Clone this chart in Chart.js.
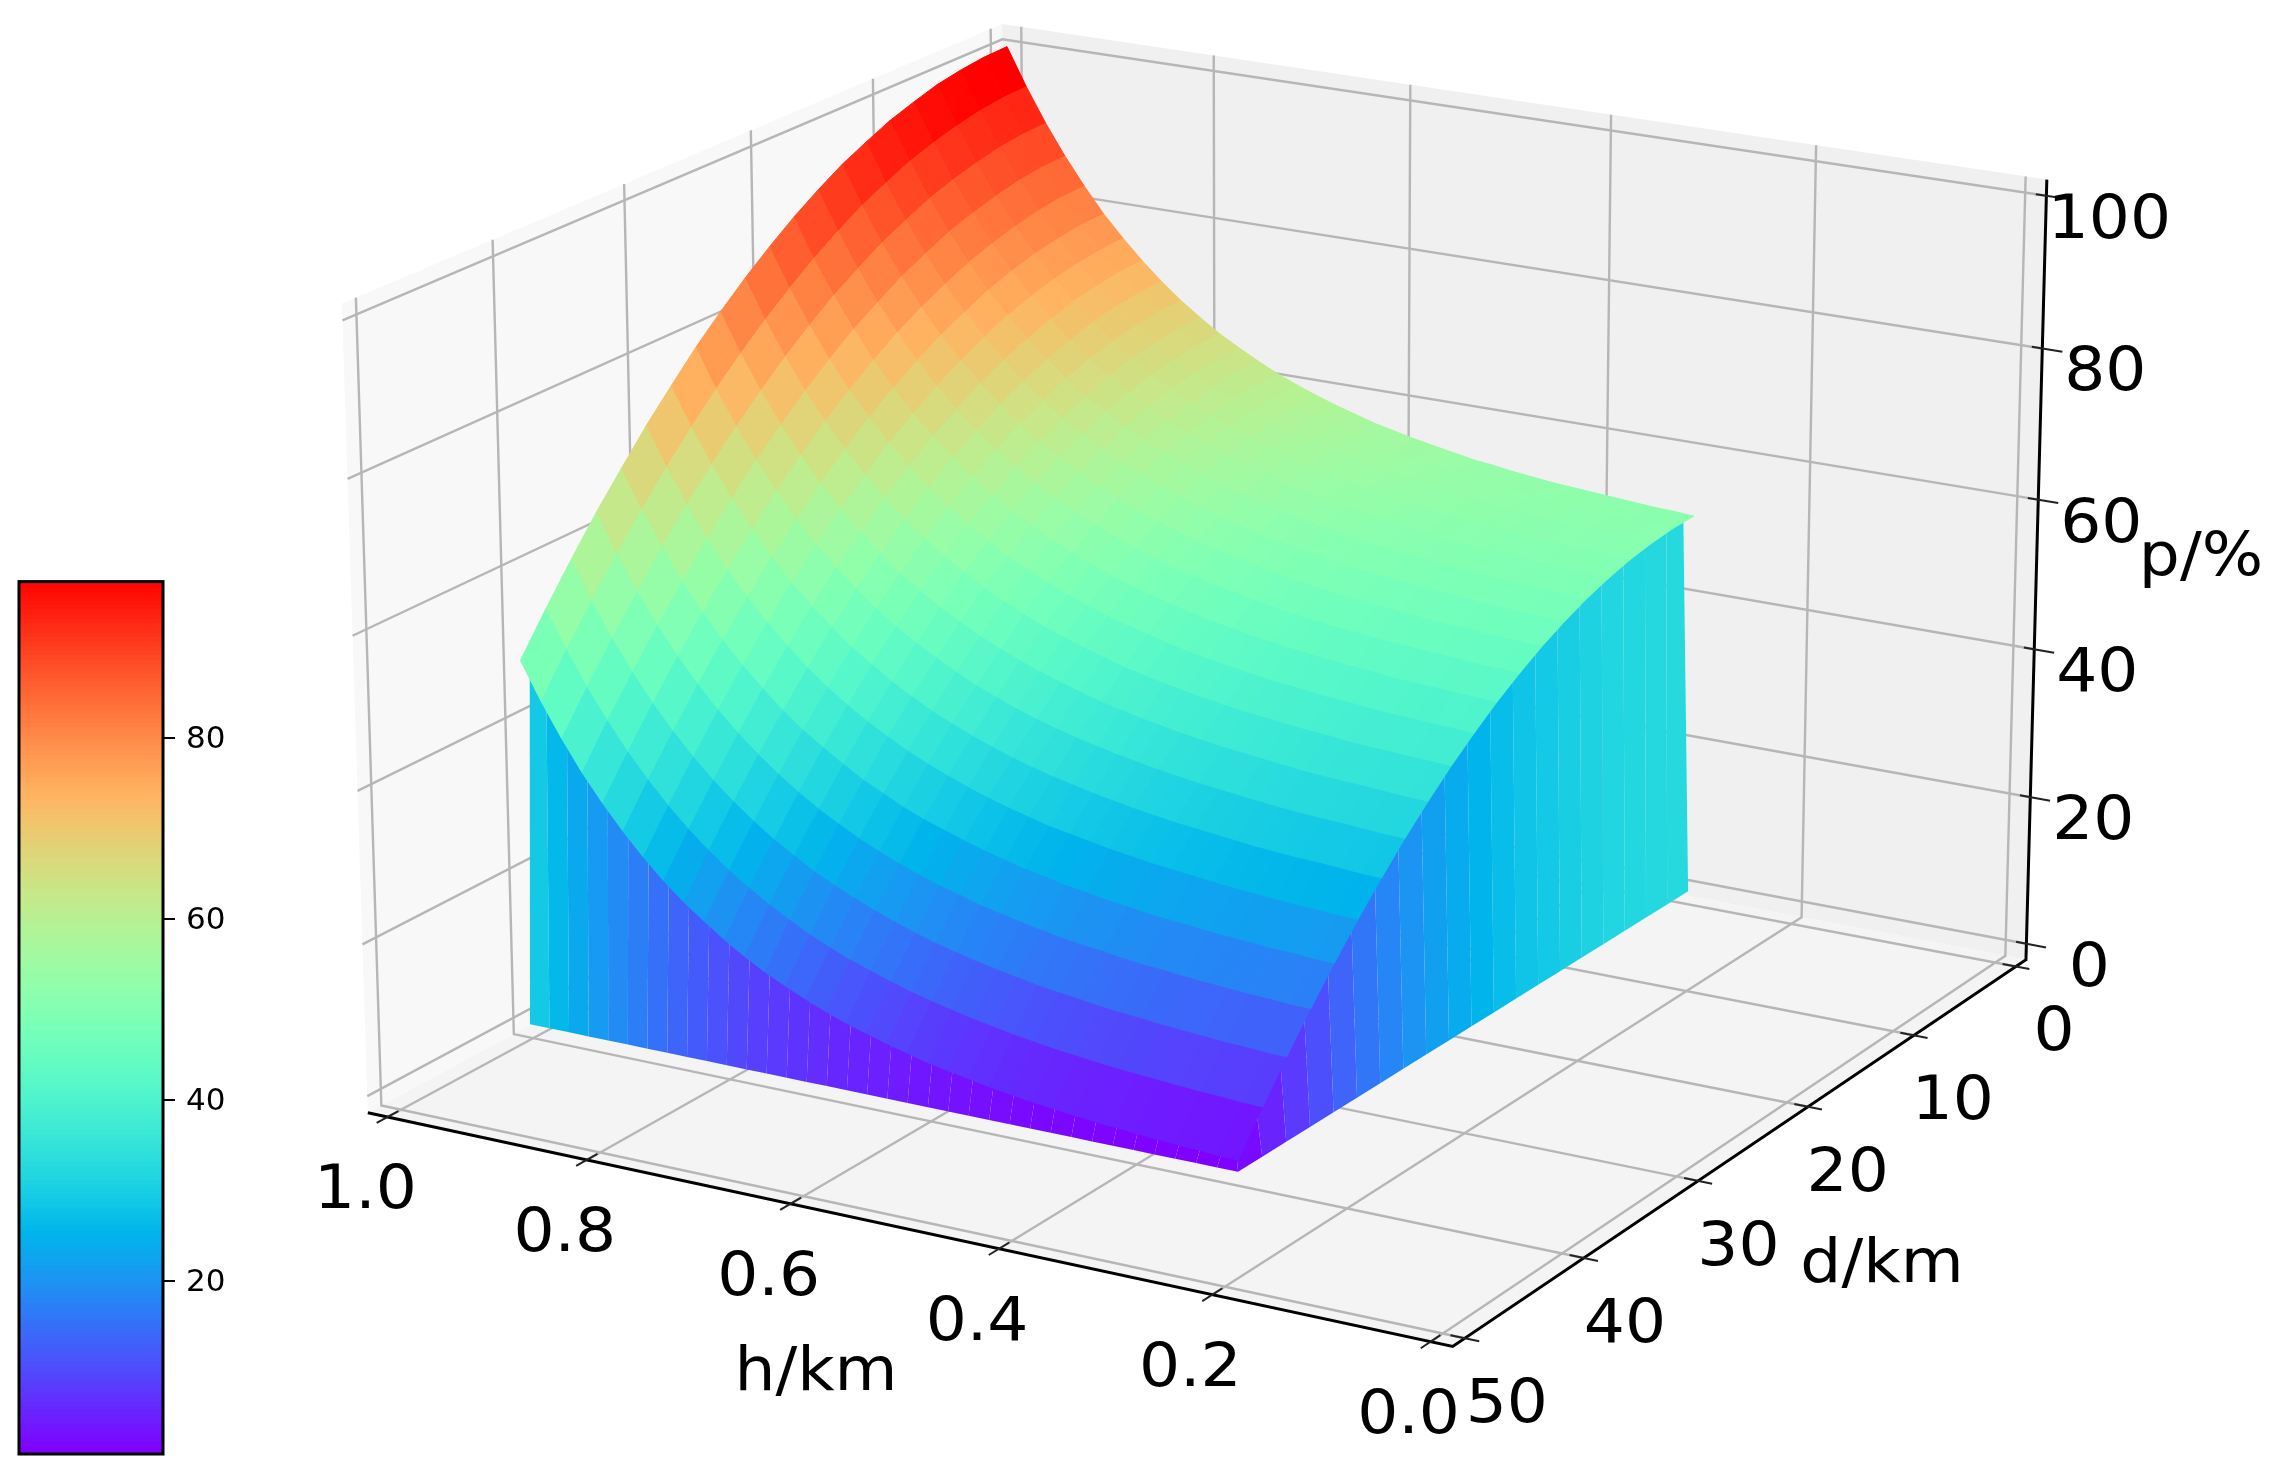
<!DOCTYPE html>
<html><head><meta charset="utf-8">
<script src="https://cdn.jsdelivr.net/npm/chart.js@4"></script>
<style>html,body{margin:0;padding:0;background:#fff}#m{position:absolute;left:0;top:0}#c{position:absolute;left:0;top:560px}</style>
</head><body>
<canvas id="m" width="2273" height="1476"></canvas>
<canvas id="c" width="260" height="916"></canvas>
<script>
const hValues=[1.003,.983,.963,.943,.923,.903,.883,.863,.843,.823,.803,.783,.763,.743,.723,.703,.683,.663,.643,.623,.603,.583,.563,.543,.523,.503,.483,.463,.443,.423,.403,.383,.363,.343,.323,.303];
const dValues=[0,2,4,6,8,10,12,14,16,18,20,22,24,26,28,30,32,34,36,38,40];
const pValues=[
[100,99.9,99.5,98.9,97.9,96.8,95.3,93.7,91.7,89.5,87,84.3,81.3,78.1,74.5,70.8,66.7,62.5,57.9,53.1,48],
[94.9,94.8,94.4,93.7,92.8,91.7,90.2,88.6,86.6,84.4,81.9,79.2,76.2,73,69.5,65.8,61.7,57.5,52.9,48.2,43.1],
[90.3,90.2,89.8,89.1,88.2,87.1,85.6,84,82,79.9,77.4,74.7,71.7,68.5,65,61.3,57.3,53,48.5,43.7,38.7],
[86.2,86.1,85.7,85,84.1,83,81.5,79.9,77.9,75.8,73.3,70.6,67.6,64.5,61,57.2,53.2,49,44.5,39.8,34.7],
[82.5,82.4,82,81.3,80.4,79.3,77.8,76.2,74.3,72.1,69.6,67,64,60.8,57.3,53.6,49.6,45.4,40.9,36.2,31.2],
[79.1,79,78.6,78,77.1,76,74.5,72.9,71,68.8,66.4,63.7,60.7,57.5,54.1,50.4,46.4,42.2,37.7,33,28],
[76.2,76,75.6,75,74.1,73,71.6,69.9,68,65.8,63.4,60.7,57.8,54.6,51.1,47.5,43.5,39.3,34.8,30.1,25.1],
[73.5,73.4,73,72.4,71.4,70.3,68.9,67.3,65.3,63.2,60.8,58.1,55.1,52,48.5,44.9,40.9,36.7,32.2,27.5,22.5],
[71.1,71,70.6,70,69,67.9,66.5,64.9,62.9,60.8,58.4,55.7,52.8,49.6,46.2,42.5,38.5,34.4,29.9,25.2,20.2],
[68.9,68.8,68.4,67.8,66.9,65.8,64.3,62.7,60.8,58.7,56.2,53.6,50.6,47.5,44,40.4,36.4,32.3,27.8,23.1,18.2],
[67,66.9,66.5,65.9,65,63.8,62.4,60.8,58.9,56.7,54.3,51.7,48.7,45.6,42.2,38.5,34.6,30.4,25.9,21.3,16.3],
[65.2,65.1,64.7,64.1,63.2,62.1,60.7,59.1,57.1,55,52.6,50,47,43.9,40.4,36.8,32.9,28.7,24.3,19.6,14.6],
[63.7,63.6,63.2,62.6,61.7,60.5,59.1,57.5,55.6,53.5,51,48.4,45.5,42.4,38.9,35.3,31.3,27.2,22.7,18.1,13.1],
[62.3,62.2,61.8,61.2,60.3,59.2,57.7,56.1,54.2,52.1,49.7,47,44.1,41,37.5,33.9,30,25.8,21.4,16.7,11.8],
[61,60.9,60.5,59.9,59,57.9,56.5,54.9,53,50.8,48.4,45.8,42.9,39.7,36.3,32.7,28.7,24.6,20.2,15.5,10.6],
[59.9,59.8,59.4,58.8,57.9,56.8,55.4,53.7,51.8,49.7,47.3,44.7,41.8,38.6,35.2,31.6,27.6,23.5,19.1,14.4,9.5],
[58.9,58.8,58.4,57.8,56.9,55.8,54.4,52.7,50.8,48.7,46.3,43.7,40.8,37.6,34.2,30.6,26.7,22.5,18.1,13.5,8.5],
[58,57.9,57.5,56.9,56,54.9,53.4,51.8,49.9,47.8,45.4,42.8,39.9,36.7,33.3,29.7,25.8,21.6,17.2,12.6,7.7],
[57.2,57.1,56.7,56.1,55.2,54,52.6,51,49.1,47,44.6,42,39.1,35.9,32.5,28.9,25,20.9,16.4,11.8,6.9],
[56.4,56.3,55.9,55.3,54.4,53.3,51.9,50.3,48.4,46.3,43.9,41.2,38.3,35.2,31.8,28.2,24.3,20.1,15.7,11.1,6.2],
[55.8,55.7,55.3,54.7,53.8,52.7,51.3,49.6,47.7,45.6,43.2,40.6,37.7,34.6,31.2,27.5,23.6,19.5,15.1,10.5,5.5],
[55.2,55.1,54.7,54.1,53.2,52.1,50.7,49.1,47.2,45,42.6,40,37.1,34,30.6,27,23.1,18.9,14.5,9.9,5],
[54.7,54.6,54.2,53.6,52.6,51.5,50.1,48.5,46.6,44.5,42.1,39.5,36.6,33.5,30.1,26.5,22.5,18.4,14,9.4,4.5],
[54.2,54.1,53.7,53.1,52.2,51.1,49.7,48,46.1,44,41.6,39,36.1,33,29.6,26,22.1,17.9,13.5,8.9,4],
[53.7,53.6,53.2,52.6,51.7,50.6,49.2,47.6,45.7,43.6,41.2,38.6,35.7,32.6,29.2,25.6,21.6,17.5,13.1,8.5,3.6],
[53.4,53.3,52.9,52.3,51.4,50.3,48.9,47.2,45.3,43.2,40.8,38.2,35.3,32.2,28.8,25.2,21.3,17.2,12.8,8.1,3.2],
[53,52.9,52.5,51.9,51,49.9,48.5,46.9,45,42.9,40.5,37.9,35,31.9,28.5,24.9,20.9,16.8,12.4,7.8,2.9],
[52.7,52.6,52.2,51.6,50.7,49.6,48.2,46.6,44.7,42.6,40.2,37.6,34.7,31.6,28.2,24.6,20.6,16.5,12.1,7.5,2.6],
[52.4,52.3,51.9,51.3,50.4,49.3,47.9,46.3,44.4,42.3,39.9,37.3,34.4,31.3,27.9,24.3,20.4,16.3,11.9,7.2,2.3],
[52.2,52.1,51.7,51.1,50.2,49.1,47.7,46.1,44.2,42.1,39.7,37.1,34.1,31,27.6,24,20.1,16,11.6,7,2.1],
[52,51.9,51.5,50.9,50,48.9,47.5,45.8,44,41.8,39.4,36.8,33.9,30.8,27.4,23.8,19.9,15.8,11.4,6.8,1.9],
[51.8,51.7,51.3,50.7,49.8,48.7,47.3,45.7,43.8,41.6,39.2,36.6,33.7,30.6,27.2,23.6,19.7,15.6,11.2,6.6,1.7],
[51.6,51.5,51.1,50.5,49.6,48.5,47.1,45.5,43.6,41.5,39.1,36.5,33.6,30.5,27.1,23.4,19.5,15.4,11,6.4,1.5],
[51.4,51.3,50.9,50.3,49.4,48.3,46.9,45.3,43.4,41.3,38.9,36.3,33.4,30.3,26.9,23.3,19.4,15.3,10.9,6.3,1.4],
[51.3,51.2,50.8,50.2,49.3,48.2,46.8,45.2,43.3,41.2,38.8,36.2,33.2,30.1,26.7,23.1,19.2,15.1,10.7,6.1,1.2],
[51.1,51,50.6,50,49.1,48,46.6,45,43.1,41,38.6,36,33.1,30,26.6,23,19.1,15,10.6,6,1.1]];
const hTicks=[0,.2,.4,.6,.8,1];
const hTickLabels=['0.0','0.2','0.4','0.6','0.8','1.0'];
const dTicks=[0,10,20,30,40,50];
const dTickLabels=['0','10','20','30','40','50'];
const pTicks=[0,20,40,60,80,100];
const pTickLabels=['0','20','40','60','80','100'];
const colorbarTicks=[20,40,60,80];
const colorMin=.9,colorMax=97.3,wallBase=-.4,wallTone=.63;
const wallTopHMin=.309,wallTopHMax=.999,wallTopDMin=.4,wallTopDMax=39.6;
const H0=-.02,H1=1.02,D0=-1,D1=51,Z0=-2.2,Z1=102.1;
// camera calibration: world (h,d,p) -> picture position of the axes box
const calib=[[H1,D1,Z0,369,1111],[H0,D1,Z0,1453,1345],[H0,D0,Z0,2023,960],[H1,D1,Z1,343,303],[H1,D0,Z1,1001,23],[H0,D0,Z1,2048,180],
[1,D1,Z0,388,1117],[.8,D1,Z0,587,1162],[.6,D1,Z0,790,1206],[.4,D1,Z0,996,1250],[.2,D1,Z0,1212,1295],[0,D1,Z0,1427,1341],
[H0,40,Z0,1588,1257],[H0,30,Z0,1697,1181],[H0,20,Z0,1809,1106],[H0,10,Z0,1918,1034],[H0,0,Z0,2022,967],
[H0,D0,0,2023,943],[H0,D0,20,2028,798],[H0,D0,40,2033,649.5],[H0,D0,60,2038,500],[H0,D0,80,2042,349],[H0,D0,100,2047,196],[H1,40,Z0,514,1034]];
function solveCam(){
 const rows=[],rhs=[];
 for(const [h,d,z,u,v] of calib){const X=h,Y=d/50,Z=z/100;
  rows.push([X,Y,Z,1,0,0,0,0,-u*X,-u*Y,-u*Z]);rhs.push(u);
  rows.push([0,0,0,0,X,Y,Z,1,-v*X,-v*Y,-v*Z]);rhs.push(v);}
 const n=11,A=[];for(let i=0;i<n;i++){A.push(new Array(n+1).fill(0));
  for(let j=0;j<n;j++)for(let k=0;k<rows.length;k++)A[i][j]+=rows[k][i]*rows[k][j];
  for(let k=0;k<rows.length;k++)A[i][n]+=rows[k][i]*rhs[k];}
 for(let i=0;i<n;i++){let b=i;for(let r=i+1;r<n;r++)if(Math.abs(A[r][i])>Math.abs(A[b][i]))b=r;
  [A[i],A[b]]=[A[b],A[i]];
  for(let r=0;r<n;r++)if(r!==i){const f=A[r][i]/A[i][i];for(let c=i;c<=n;c++)A[r][c]-=f*A[i][c];}}
 return A.map((r,i)=>r[n]/r[i]);
}
const cam=solveCam();
function P(h,d,z){const X=h,Y=d/50,Z=z/100,w=cam[8]*X+cam[9]*Y+cam[10]*Z+1;
 return {x:(cam[0]*X+cam[1]*Y+cam[2]*Z+cam[3])/w,y:(cam[4]*X+cam[5]*Y+cam[6]*Z+cam[7])/w};}
function rainbow(v){const t=Math.min(1,Math.max(0,(v-colorMin)/(colorMax-colorMin)));
 const r=Math.min(1,Math.abs(2*t-.5)),g=Math.sin(Math.PI*t),b=Math.cos(Math.PI*t/2);
 return `rgb(${Math.round(r*255)},${Math.round(g*255)},${Math.round(b*255)})`;}
const sets=[];
function poly(pts,color,stroke){sets.push({type:'line',data:[...pts,pts[0]],fill:'shape',backgroundColor:color,
 borderColor:stroke?color:'rgba(0,0,0,0)',borderWidth:stroke?1:0,pointRadius:0,tension:0,borderJoinStyle:'bevel'});}
function line(pts,color,w){sets.push({type:'line',data:pts,fill:false,borderColor:color,borderWidth:w,pointRadius:0,tension:0});}
// panes
poly([P(H1,D0,Z0),P(H1,D1,Z0),P(H1,D1,Z1),P(H1,D0,Z1)],'#f8f8f8');
poly([P(H1,D0,Z0),P(H0,D0,Z0),P(H0,D0,Z1),P(H1,D0,Z1)],'#f0f0f0');
poly([P(H1,D0,Z0),P(H0,D0,Z0),P(H0,D1,Z0),P(H1,D1,Z0)],'#f4f4f4');
const GC='#b6b6b6',GW=2.4;
for(const h of hTicks){line([P(h,D1,Z0),P(h,D0,Z0),P(h,D0,Z1)],GC,GW);}
for(const d of dTicks){line([P(H0,d,Z0),P(H1,d,Z0),P(H1,d,Z1)],GC,GW);}
for(const z of pTicks){line([P(H0,D0,z),P(H1,D0,z),P(H1,D1,z)],GC,GW);}
// axes
line([P(H1,D1,Z0),P(H0,D1,Z0),P(H0,D0,Z0),P(H0,D0,Z1)],'#000',3);
for(const h of hTicks)line([P(h,D1-.8,Z0),P(h,D1+.8,Z0)],'#222',2);
for(const d of dTicks)line([P(H0+.013,d,Z0),P(H0-.013,d,Z0)],'#222',2);
for(const z of pTicks)line([P(H0+.01,D0,z),P(H0-.019,D0,z)],'#222',2);
// walls: base on the surface outline, tops slightly under the surface lip
const nh=hValues.length,nd=dValues.length,hEdge=hValues[nh-1],dEdge=dValues[nd-1];
const cl=(v,a,b)=>Math.min(b,Math.max(a,v));
for(let i=0;i<nh-1;i++){const a=pValues[i][nd-1],b=pValues[i+1][nd-1],h1=hValues[i],h2=hValues[i+1];
 poly([P(h1,dEdge,wallBase),P(h2,dEdge,wallBase),P(cl(h2,wallTopHMin,wallTopHMax),wallTopDMax,b),P(cl(h1,wallTopHMin,wallTopHMax),wallTopDMax,a)],rainbow((a+b)/2*wallTone));}
for(let j=0;j<nd-1;j++){const a=pValues[nh-1][j],b=pValues[nh-1][j+1],d1=dValues[j],d2=dValues[j+1];
 poly([P(hEdge,d1,wallBase),P(hEdge,d2,wallBase),P(wallTopHMin,cl(d2,wallTopDMin,wallTopDMax),b),P(wallTopHMin,cl(d1,wallTopDMin,wallTopDMax),a)],rainbow((a+b)/2*wallTone));}
// surface back to front
for(let i=0;i<nh-1;i++)for(let j=0;j<nd-1;j++){
 const a=pValues[i][j],b=pValues[i+1][j],c=pValues[i+1][j+1],e=pValues[i][j+1];
 poly([P(hValues[i],dValues[j],a),P(hValues[i+1],dValues[j],b),P(hValues[i+1],dValues[j+1],c),P(hValues[i],dValues[j+1],e)],rainbow((a+b+c+e)/4),true);
}
sets.reverse();
const FONT='61px "DejaVu Sans"',STRETCH=1.06;
function txt(c,s,x,y){c.save();c.translate(x,y);c.scale(STRETCH,1);c.fillText(s,0,0);c.restore();}
const labelsPlugin={id:'labels',afterDraw(ch){const c=ch.ctx;c.save();c.fillStyle='#000';c.font=FONT;c.textAlign='center';c.textBaseline='alphabetic';
 hTicks.forEach((h,i)=>{const p=P(h,D1,Z0);txt(c,hTickLabels[i],p.x-22,p.y+69+22);});
 dTicks.forEach((d,i)=>{const p=P(H0,d,Z0);txt(c,dTickLabels[i],p.x+38+d*.08,p.y+62+22);});
 pTicks.forEach((z,i)=>{const p=P(H0,D0,z);txt(c,pTickLabels[i],p.x+63,p.y+20+22);});
 txt(c,'h/km',816,1390);txt(c,'d/km',1882,1282);txt(c,'p/%',2201,575);c.restore();}};
new Chart(document.getElementById('m'),{type:'line',data:{datasets:sets},plugins:[labelsPlugin],options:{responsive:false,animation:false,events:[],
 layout:{padding:0},plugins:{legend:{display:false},tooltip:{enabled:false}},
 scales:{x:{type:'linear',display:false,min:0,max:2273},y:{type:'linear',display:false,reverse:true,min:0,max:1476}}}});
// colorbar
const barLevels=[];for(let v=colorMin;v<colorMax;v+=.5)barLevels.push(v);
const frame={id:'frame',afterDraw(ch){const a=ch.chartArea,c=ch.ctx;c.save();c.strokeStyle='#000';c.lineWidth=3;c.strokeRect(a.left,a.top,a.width,a.height);c.restore();}};
new Chart(document.getElementById('c'),{type:'bar',data:{labels:[''],datasets:barLevels.map(v=>({data:[[v,Math.min(v+.75,colorMax)]],backgroundColor:rainbow(v+.25),borderWidth:0,barPercentage:1,categoryPercentage:1,grouped:false}))},
 plugins:[frame],options:{responsive:false,animation:false,events:[],layout:{padding:{left:19,top:21.6,bottom:22,right:0}},plugins:{legend:{display:false},tooltip:{enabled:false}},
 scales:{x:{display:false},y:{position:'right',min:colorMin,max:colorMax,afterFit(s){s.width=97;s.paddingTop=0;s.paddingBottom=0;},afterBuildTicks(s){s.ticks=colorbarTicks.map(v=>({value:v}));},
 border:{display:false},grid:{drawOnChartArea:false,drawTicks:true,tickLength:12,color:'#000',lineWidth:2},
 ticks:{padding:11,labelOffset:2,color:'#000',font:{family:'DejaVu Sans',size:31},autoSkip:false,maxRotation:0,callback:v=>String(v)}}}}});
</script></body></html>
